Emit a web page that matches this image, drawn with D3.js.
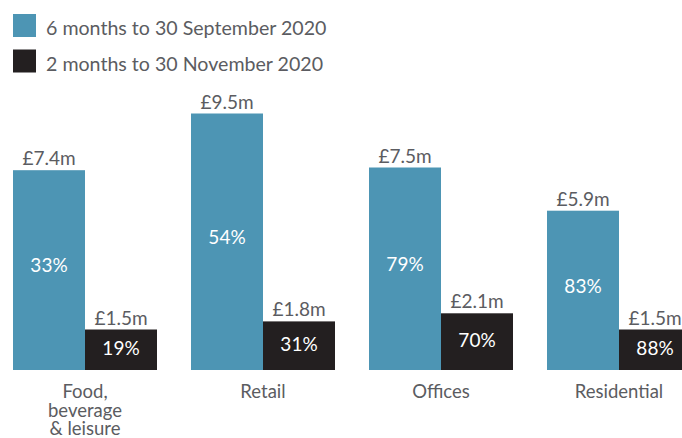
<!DOCTYPE html>
<html>
<head>
<meta charset="utf-8">
<script src="https://cdn.jsdelivr.net/npm/d3@7"></script>
<style>
  html, body { margin: 0; padding: 0; background: #fff; }
  svg text { font-family: Lato, "Noto Sans", sans-serif; }
</style>
</head>
<body>
<svg id="chart" width="682" height="438"></svg>
<script>
// Rental income collected by sector
const categories = [["Food,", "beverage", "& leisure"], ["Retail"], ["Offices"], ["Residential"]];
const categoryKeys = ["Food, beverage & leisure", "Retail", "Offices", "Residential"];
const seriesNames = ["6 months to 30 September 2020", "2 months to 30 November 2020"];
const seriesColors = ["#4d95b4", "#231f20"];
// £m billed per period
const septValues = [7.4, 9.5, 7.5, 5.9];
const novValues = [1.5, 1.8, 2.1, 1.5];
// share collected, shown inside each bar
const septPct = ["33%", "54%", "79%", "83%"];
const novPct = ["19%", "31%", "70%", "88%"];

const svg = d3.select("#chart");
const textGrey = "#5b5c61";

const x = d3.scaleBand()
  .domain(categoryKeys)
  .range([13, 691])
  .paddingInner(34 / 178)
  .paddingOuter(0);

const xs = d3.scaleBand()
  .domain([0, 1])
  .range([0, x.bandwidth()]);

const y = d3.scaleLinear().domain([0, 10]).range([370, 100]);

const rows = categoryKeys.map((k, i) => ({
  key: k,
  lines: categories[i],
  bars: [
    { s: 0, v: septValues[i], pct: septPct[i] },
    { s: 1, v: novValues[i], pct: novPct[i] }
  ]
}));

const g = svg.selectAll("g.cat").data(rows).join("g")
  .attr("class", "cat")
  .attr("transform", d => `translate(${x(d.key)},0)`);

const bar = g.selectAll("g.bar").data(d => d.bars).join("g").attr("class", "bar");

bar.append("rect")
  .attr("x", d => xs(d.s))
  .attr("width", xs.bandwidth())
  .attr("y", d => y(d.v))
  .attr("height", d => y(0) - y(d.v))
  .attr("fill", d => seriesColors[d.s]);

// value above each bar
bar.append("text")
  .attr("x", d => xs(d.s) + xs.bandwidth() / 2)
  .attr("y", d => y(d.v) - 5)
  .attr("text-anchor", "middle")
  .attr("font-size", 19)
  .attr("fill", textGrey)
  .text(d => `£${d.v.toFixed(1)}m`);

// collection rate inside each bar
bar.append("text")
  .attr("x", d => xs(d.s) + xs.bandwidth() / 2)
  .attr("y", d => (y(d.v) + y(0)) / 2)
  .attr("dy", d => d.s === 0 ? "0.12em" : "0.28em")
  .attr("text-anchor", "middle")
  .attr("font-size", 19)
  .attr("fill", "#ffffff")
  .text(d => d.pct);

// category labels under each pair of bars
g.append("text")
  .attr("x", x.bandwidth() / 2)
  .attr("y", 398)
  .attr("text-anchor", "middle")
  .attr("font-size", 18.5)
  .attr("fill", textGrey)
  .selectAll("tspan").data(d => d.lines).join("tspan")
  .attr("x", x.bandwidth() / 2)
  .attr("dy", (d, i) => i === 0 ? 0 : 18.5)
  .text(d => d);

// legend
const legend = svg.selectAll("g.legend").data(seriesNames).join("g")
  .attr("class", "legend")
  .attr("transform", (d, i) => `translate(13,${14 + i * 35.5})`);

legend.append("rect")
  .attr("width", 23)
  .attr("height", 23)
  .attr("fill", (d, i) => seriesColors[i]);

legend.append("text")
  .attr("x", 33)
  .attr("y", 21)
  .attr("font-size", 19.6)
  .attr("fill", textGrey)
  .text(d => d);
</script>
</body>
</html>
